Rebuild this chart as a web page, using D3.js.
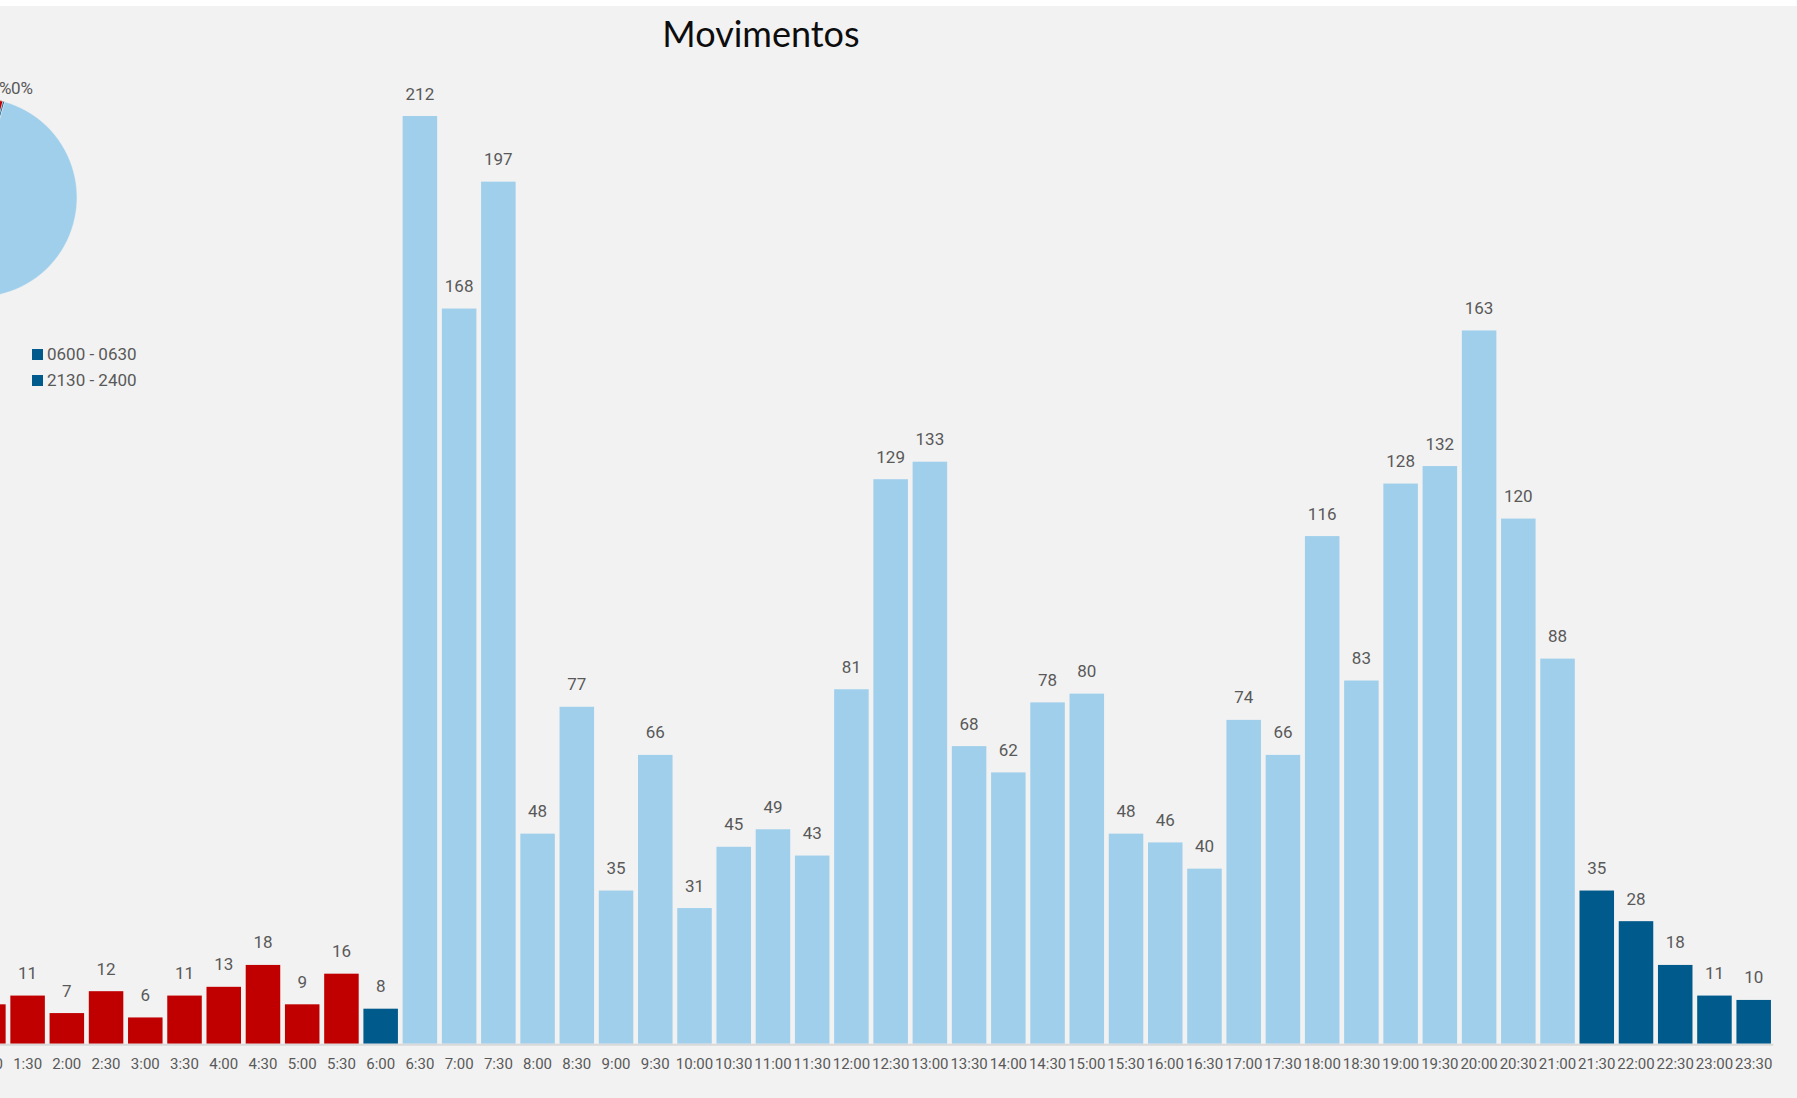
<!DOCTYPE html>
<html>
<head>
<meta charset="utf-8">
<script src="https://cdn.jsdelivr.net/npm/d3@7"></script>
<style>
  body { margin: 0; background: #ffffff; }
  svg { display: block; }
</style>
</head>
<body>
<div id="chart"></div>
<script>
// half-hour slots
var horas = ["0:00","0:30","1:00","1:30","2:00","2:30","3:00","3:30","4:00","4:30","5:00","5:30",
  "6:00","6:30","7:00","7:30","8:00","8:30","9:00","9:30","10:00","10:30","11:00","11:30",
  "12:00","12:30","13:00","13:30","14:00","14:30","15:00","15:30","16:00","16:30","17:00","17:30",
  "18:00","18:30","19:00","19:30","20:00","20:30","21:00","21:30","22:00","22:30","23:00","23:30"];

var movimentos = [5,4,9,11,7,12,6,11,13,18,9,16,
  8,212,168,197,48,77,35,66,31,45,49,43,
  81,129,133,68,62,78,80,48,46,40,74,66,
  116,83,128,132,163,120,88,35,28,18,11,10];

// period of each slot (first slot of each period)
var periodos = ["0000 - 0530","0600 - 0630","0630 - 2100","2130 - 2400"];
var inicioPeriodo = ["0:00","6:00","6:30","21:30"];
var legendaVisivel = ["0600 - 0630","2130 - 2400"];

var W = 1797, H = 1098;

var svg = d3.select("#chart").append("svg")
  .attr("width", W).attr("height", H);

svg.append("rect")
  .attr("x", 0).attr("y", 6).attr("width", W).attr("height", H - 6)
  .attr("fill", "#f2f2f2");

function periodoDe(i){
  var p = 0;
  inicioPeriodo.forEach(function(h, k){ if (i >= horas.indexOf(h)) p = k; });
  return periodos[p];
}

var color = d3.scaleOrdinal()
  .domain(periodos)
  .range(["#c00000","#005a8c","#a0cfeb","#005a8c"]);

var data = horas.map(function(h, i){ return {hora: h, valor: movimentos[i], periodo: periodoDe(i)}; });

// bars
var x = d3.scaleBand()
  .domain(horas)
  .range([-109.7, 1773.3])
  .paddingInner(0.12)
  .paddingOuter(0.06);

var y = d3.scaleLinear()
  .domain([0, d3.max(movimentos)])
  .range([1043.7, 116]);

svg.append("g")
  .selectAll("rect")
  .data(data)
  .enter().append("rect")
    .attr("x", function(d){ return x(d.hora); })
    .attr("y", function(d){ return y(d.valor); })
    .attr("width", x.bandwidth())
    .attr("height", function(d){ return y(0) - y(d.valor); })
    .attr("fill", function(d){ return color(d.periodo); });

svg.append("g")
  .selectAll("text")
  .data(data)
  .enter().append("text")
    .attr("x", function(d){ return x(d.hora) + x.bandwidth()/2; })
    .attr("y", function(d){ return y(d.valor) - 16.5; })
    .attr("text-anchor", "middle")
    .attr("font-family", "Roboto, sans-serif")
    .attr("font-size", "17px")
    .attr("fill", "#595959")
    .text(function(d){ return d.valor; });

// x axis
var xAxis = svg.append("g")
  .attr("transform", "translate(0," + y(0) + ")")
  .call(d3.axisBottom(x).tickSize(0).tickPadding(15).tickSizeOuter(0));
xAxis.select(".domain").attr("stroke", "#d9d9d9").attr("stroke-width", 2)
  .attr("d", "M0,1H1773.3");
xAxis.selectAll("text")
  .attr("font-family", "Roboto, sans-serif")
  .attr("font-size", "15px")
  .attr("fill", "#595959");

// title
svg.append("text")
  .attr("x", 761)
  .attr("y", 46.5)
  .attr("text-anchor", "middle")
  .attr("font-family", "Lato, sans-serif")
  .attr("font-size", "36px")
  .attr("fill", "#0d0d0d")
  .text("Movimentos");

// pie by period
var totais = periodos.map(function(p){
  return {periodo: p, valor: d3.sum(data.filter(function(d){ return d.periodo === p; }), function(d){ return d.valor; })};
});
var total = d3.sum(totais, function(d){ return d.valor; });

var r = 99.5, cx = -22.5, cy = 197.5;
var pie = d3.pie().sort(null).value(function(d){ return d.valor; });
var arcs = pie(totais);
var arc = d3.arc().innerRadius(0).outerRadius(r);

var gPie = svg.append("g").attr("transform", "translate(" + cx + "," + cy + ")");
gPie.selectAll("path")
  .data(arcs)
  .enter().append("path")
    .attr("d", arc)
    .attr("fill", function(d){ return color(d.data.periodo); })
    .attr("stroke", "#f2f2f2")
    .attr("stroke-width", 0.5);

// labels of the two small slices at the top
var a = arcs[1].startAngle, rl = r + 8;
var lx = Math.sin(a) * rl, ly = -Math.cos(a) * rl;
var fmt = d3.format(".0%");
[0, 1].forEach(function(k){
  gPie.append("text")
    .attr("x", k === 0 ? lx + 6.5 : lx + 6)
    .attr("y", ly)
    .attr("text-anchor", k === 0 ? "end" : "start")
    .attr("font-family", "Roboto, sans-serif")
    .attr("font-size", "17px")
    .attr("fill", "#595959")
    .text(fmt(arcs[k].data.valor / total));
});

// legend
var leg = svg.append("g")
  .selectAll("g")
  .data(legendaVisivel)
  .enter().append("g")
    .attr("transform", function(d, i){ return "translate(32," + (349 + i * 26) + ")"; });
leg.append("rect")
  .attr("width", 11).attr("height", 11)
  .attr("fill", function(d){ return color(d); });
leg.append("text")
  .attr("x", 15).attr("y", 11)
  .attr("font-family", "Roboto, sans-serif")
  .attr("font-size", "17px")
  .attr("fill", "#595959")
  .text(function(d){ return d; });
</script>
</body>
</html>
